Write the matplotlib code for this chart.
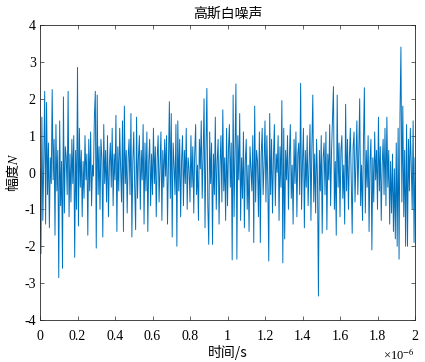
import numpy as np
import matplotlib
matplotlib.use("Agg")
import matplotlib.pyplot as plt

plt.rcParams['font.family'] = ['Liberation Serif', 'Noto Sans CJK SC', 'DejaVu Sans']
plt.rcParams['mathtext.fontset'] = 'stix'
plt.rcParams['axes.unicode_minus'] = False

# Amplitude samples (0 .. 2e-6 s)
amplitude = [
    0.1, -2.2, 1.5, -1.3, 0.3, 2.2, -1.4, 1.9, -0.6, 0.8, -1.5, 0.4, -0.3, 2.25, -0.2, 0.9, -1.7, 1.3, -0.5, 0.6,
    -2.85, 1.4, -0.9, 0.3, -2.6, 2.05, -1.1, 0.7, 0.4, -0.6, 2.2, -1.2, 0.5, -0.8, 0.9, -0.3, 1.0, -2.3, 0.6, -1.0,
    2.85, -1.45, 1.2, -0.4, 0.6, -1.2, 0.3, -0.7, 1.0, -0.2, 0.5, -1.7, 0.9, -0.5, 1.1, -0.9, 0.2, -0.1, 1.5, 2.2,
    -2.05, 2.1, -0.6, 0.7, -1.0, 0.9, 0.4, -1.75, 1.3, -0.3, 0.6, -0.8, 1.0, -1.2, 0.2, 0.8, -0.4, 1.2, -0.9, 0.5,
    -0.2, 1.55, -1.6, 0.7, -0.5, 1.2, 0.1, -0.8, 1.4, -1.6, 1.8, -0.3, 0.6, -1.1, 0.4, 0.9, -0.6, 1.6, -1.75, 0.3,
    1.1, -0.4, -1.55, 1.5, -0.7, 0.4, 1.0, -1.0, 0.6, -0.2, 1.3, -1.4, 0.8, -0.5, 1.1, -1.6, 0.3, 0.9, -0.9, 0.5,
    -0.6, 1.2, -0.3, 0.7, -1.2, 0.4, 1.0, -0.8, 0.2, 1.1, -1.3, 0.6, -0.4, 0.9, -0.1, 1.0, -1.4, 0.3, 1.92, -0.7,
    1.6, -1.75, 0.8, 0.2, -0.6, 1.3, -2.0, 1.4, -0.5, 0.9, -1.2, 0.3, 1.0, -0.9, 0.6, -0.3, 1.2, -1.0, 0.4, 0.1,
    -0.8, 1.0, -0.4, 0.7, -1.1, 0.5, 1.3, -0.6, 0.2, -1.3, 0.9, 0.1, 1.4, -0.7, 0.4, 2.0, -1.5, 0.6, 2.28, -0.9,
    -1.95, 1.1, -0.3, 0.8, -1.95, 0.5, -0.6, 1.5, -1.0, 0.3, 0.9, -1.4, 0.2, 1.0, -0.8, 1.7, -0.5, 0.4, -1.3, 1.2,
    -0.9, 0.6, 1.3, -0.4, 0.8, -2.37, 2.1, -1.2, 0.5, 2.4, -2.35, 1.0, -0.2, 1.6, -1.3, 0.4, -0.7, 1.1, -1.5, 0.3,
    0.9, -1.0, 0.2, -1.6, 0.7, 0.1, -0.5, 1.0, -1.9, 1.8, -0.8, 0.6, 0.3, -1.2, 1.1, -1.9, 0.5, 1.2, -0.6, 0.2,
    1.4, -0.8, 1.0, -0.3, -2.4, 1.6, -0.6, 0.9, -1.1, 0.4, 1.3, -0.9, 0.5, 0.0, 1.0, -1.3, 0.7, -0.4, 1.95, -2.45,
    1.2, -1.8, 0.6, -0.2, 1.0, -1.0, 0.4, 1.3, -0.7, 0.2, -1.4, 0.9, -0.3, 1.1, -1.2, 0.5, 0.8, -0.6, 2.42, -1.0,
    0.3, 1.2, -1.5, 0.6, -0.4, 1.0, -0.9, 0.2, 1.3, -1.3, 0.7, 2.1, -0.8, 0.5, -1.1, 0.9, -0.2, -3.35, 0.6, -0.5,
    1.0, -1.65, 0.4, 0.8, -0.6, 1.1, -1.55, 0.5, -0.2, 1.3, -0.9, 0.6, 1.5, 2.33, -1.0, 0.3, -1.7, 2.1, -0.4, 0.8,
    -1.2, 0.6, 1.0, -0.7, 0.2, -1.4, 1.85, -0.5, 0.9, -1.0, 0.4, 1.2, -0.3, -1.65, 0.7, 1.1, -0.8, 0.3, 1.4, -0.6,
    0.5, 2.0, -0.9, 0.2, -1.3, 0.8, 2.3, -1.1, 0.6, -0.4, 1.0, -1.6, 0.3, 0.9, -2.1, 0.4, -0.8, 1.1, -0.2, 0.6,
    -1.0, 1.5, -0.5, 0.7, -1.3, 0.2, 0.9, -0.6, 1.2, -0.9, 1.5, -0.4, 0.6, -1.4, 0.3, -1.1, 0.5, -1.6, 0.1, -1.8,
    0.8, -2.0, 1.2, -2.35, 1.6, 3.4, -0.8, 1.8, -1.2, 0.6, -2.0, 1.3, -2.0, 0.9, -0.5, 1.2, 0.2, -1.0, 1.4, -1.9,
    0.4,
]
t_start = 0.0
t_end = 2e-6
xtick_values = [0, 0.2, 0.4, 0.6, 0.8, 1, 1.2, 1.4, 1.6, 1.8, 2]
xtick_labels = ['0', '0.2', '0.4', '0.6', '0.8', '1', '1.2', '1.4', '1.6', '1.8', '2']
ytick_values = [-4, -3, -2, -1, 0, 1, 2, 3, 4]

t = np.linspace(t_start, t_end, len(amplitude))

fig = plt.figure(figsize=(4.25, 3.62), dpi=100)
ax = fig.add_axes([40/425, 1 - 320/362, 375/425, 295/362])
ax.plot(t, amplitude, color='#0072BD', lw=0.7)
ax.set_xlim(t_start, t_end)
ax.set_ylim(-4, 4)
ax.set_xticks([v * 1e-6 for v in xtick_values])
ax.set_xticklabels(xtick_labels)
ax.set_yticks(ytick_values)
ax.set_yticklabels([str(v) for v in ytick_values])

grey = '#262626'
for s in ax.spines.values():
    s.set_color(grey)
    s.set_linewidth(0.6)
ax.tick_params(direction='in', length=3, width=0.5, colors=grey, labelsize=10,
               top=True, right=True)
ax.tick_params(axis='x', pad=7)
ax.tick_params(axis='y', pad=3)
for lab in ax.get_xticklabels() + ax.get_yticklabels():
    lab.set_color('black')

ax.set_title('高斯白噪声', fontsize=10, family=['Noto Sans CJK SC'], pad=5)
ax.set_xlabel('时间/s', fontsize=10, family=['Noto Sans CJK SC', 'Liberation Serif'], labelpad=2)
ax.set_ylabel('幅度$N$', fontsize=10, family=['Noto Sans CJK SC', 'Liberation Serif'], labelpad=2)
ax.text(1.0, -0.118, '×10$^{-6}$', transform=ax.transAxes, ha='right', va='center', fontsize=9)

fig.savefig('out.png', dpi=100)
